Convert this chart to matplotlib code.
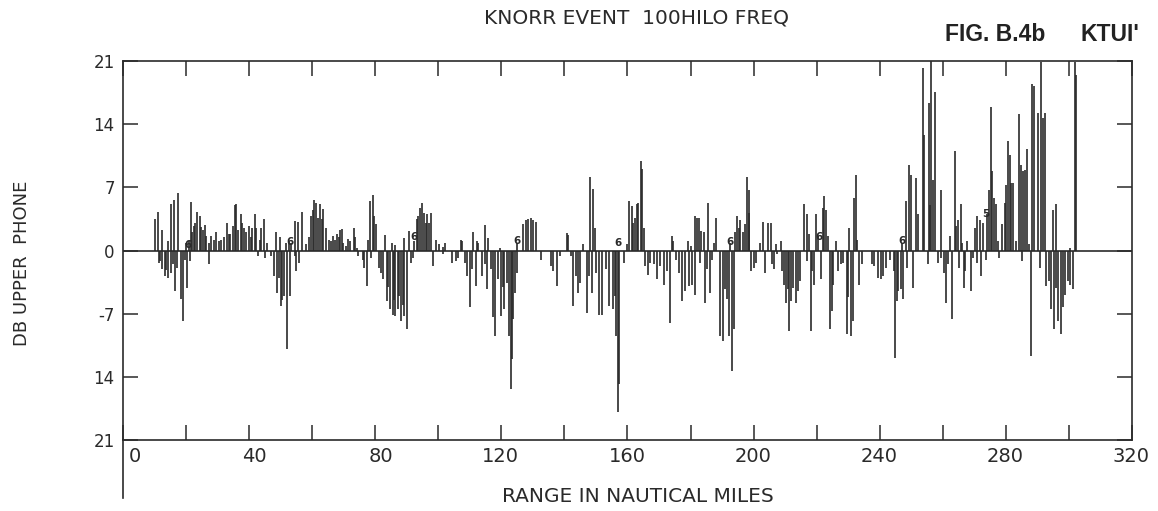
import matplotlib
matplotlib.use('Agg')
import matplotlib.pyplot as plt
import matplotlib.transforms as mtransforms
import numpy as np

plt.rcParams['font.family'] = 'DejaVu Sans'

ink = '#2a2a2a'

# upper (hi) readings: range in nautical miles, level in dB
hi_range = [10.0, 11.1, 12.5, 14.3, 15.1, 16.2, 17.5, 20.1, 20.8, 21.5, 22.0, 22.5, 23.0, 23.6,
            24.3, 24.8, 25.4, 25.9, 26.4, 27.2, 28.0, 28.9, 29.6, 30.3, 31.2, 32.0, 33.0, 33.5,
            34.1, 34.9, 35.4, 35.9, 36.5, 37.3, 37.9, 38.4, 39.1, 39.9, 40.5, 41.0, 41.8, 42.3,
            43.3, 43.9, 44.6, 45.8, 48.6, 49.7, 51.8, 52.5, 53.4, 54.7,
            55.4, 56.8, 58.0, 59.1, 59.6, 60.2, 60.7, 61.2, 61.7, 62.6, 63.1, 63.5, 64.4, 65.2,
            65.9, 66.5, 67.1, 67.8, 68.4, 68.8, 69.4, 69.7, 70.7, 71.5, 72.0, 73.4, 73.7, 74.1,
            77.6, 78.3, 79.2, 79.7, 80.2, 83.2, 85.2, 86.4, 89.2, 90.6, 92.4, 93.1, 93.5, 94.2,
            94.8, 95.6, 96.1, 96.4, 96.9, 97.7, 99.3, 100.3, 101.4, 102.1,
            107.1, 107.6, 111.0, 112.2, 112.7, 114.8, 115.9, 119.5, 125.1, 127.0, 127.7, 128.4,
            129.3, 130.1, 130.9, 140.7, 141.1, 146.0, 148.1, 149.1, 149.6,
            159.8, 160.6, 161.4, 161.9, 162.3, 163.0, 163.5, 164.2, 164.6, 165.1, 174.1, 174.4,
            179.2, 180.0, 181.3, 182.0, 182.8, 183.4, 184.2, 185.7, 187.3, 188.2, 192.6, 194.2,
            194.7, 195.3, 195.8, 196.5, 197.2, 197.9, 198.4, 198.7, 201.9, 202.9, 204.6,
            205.4, 207.1, 208.7, 216.1, 217.0, 217.7, 219.8, 220.5, 221.9, 222.3, 223.0, 223.7,
            226.0, 230.4, 231.8, 232.5, 232.9, 247.0, 248.3, 249.4, 249.8, 251.5, 252.2, 253.6,
            254.0,
            255.6, 256.0, 256.4, 256.9, 257.4, 259.3, 262.4, 263.8, 264.3, 264.8, 265.7, 266.1,
            267.8, 270.1, 270.9, 271.7, 272.7, 274.1, 274.6, 275.2, 275.7, 276.1, 276.8, 277.5,
            278.8, 279.6, 280.1, 280.7, 281.2, 281.7, 282.3, 283.1, 284.1, 284.7, 285.4, 286.0,
            286.8, 287.5, 288.3, 288.9, 290.2, 291.2, 291.8, 292.3, 294.9, 295.8, 300.5, 301.8,
            302.3]
hi_db = [3.5, 4.3, 2.3, 1.1, 5.1, 5.6, 6.4, 0.8, 1.0, 5.4, 2.0, 2.7, 3.0, 4.3,
         3.8, 2.6, 2.3, 2.8, 1.6, 0.8, 1.6, 1.2, 2.0, 1.0, 1.2, 1.5, 3.1, 1.8,
         1.8, 2.7, 5.0, 5.2, 2.3, 4.1, 3.0, 2.5, 2.0, 2.7, 1.5, 2.5, 4.0, 2.5,
         1.2, 2.5, 3.5, 0.8, 2.0, 1.5, 0.8, 0.9, 0.8, 3.3,
         3.2, 4.3, 0.7, 1.5, 3.8, 4.5, 5.6, 5.3, 3.6, 5.1, 3.5, 4.6, 2.5, 1.2,
         1.0, 1.6, 1.2, 1.8, 1.5, 2.3, 2.4, 0.8, 0.5, 1.3, 1.1, 2.5, 1.5, 0.3,
         1.2, 5.5, 6.2, 3.8, 2.9, 1.7, 0.8, 0.6, 1.4, 2.2, 1.0, 3.5, 3.8, 4.7,
         5.3, 4.2, 3.0, 4.0, 3.1, 4.2, 1.2, 0.7, 0.4, 0.8,
         1.2, 1.0, 2.0, 1.1, 0.8, 2.8, 1.4, 0.3, 0.8, 2.9, 3.4, 3.5,
         3.6, 3.4, 3.2, 1.9, 1.7, 0.7, 8.2, 6.8, 2.5,
         0.7, 5.5, 4.9, 3.0, 3.6, 5.1, 5.3, 9.9, 9.0, 2.5, 1.6, 1.0,
         1.0, 0.5, 3.8, 3.6, 3.6, 2.2, 2.1, 5.3, 0.8, 3.6, 0.8, 2.1,
         3.8, 2.5, 3.4, 2.1, 2.9, 8.2, 4.2, 6.7, 0.8, 3.2, 3.1,
         3.1, 0.7, 1.0, 5.1, 4.1, 1.8, 4.0, 1.6, 4.7, 6.0, 4.5, 1.6,
         1.0, 2.5, 5.8, 8.4, 1.2, 0.8, 5.5, 9.5, 8.4, 8.0, 4.0, 20.2,
         12.8,
         16.3, 5.0, 21.0, 7.8, 17.6, 6.7, 1.6, 11.0, 2.7, 3.4, 5.1, 0.8,
         1.0, 2.5, 3.8, 3.4, 3.1, 4.0, 6.7, 15.9, 8.8, 5.8, 5.1, 1.0,
         2.9, 5.3, 7.3, 12.1, 10.6, 7.5, 7.5, 1.0, 15.1, 9.5, 8.8, 8.9,
         11.2, 0.7, 18.4, 18.2, 15.2, 20.9, 14.7, 15.2, 4.5, 5.1, 0.3, 20.9,
         19.4]

# lower (lo) readings
lo_range = [11.3, 11.8, 12.4, 13.2, 13.7, 14.3, 15.3, 15.9, 16.4, 17.2, 18.3, 19.0, 19.8, 20.4,
            21.1, 27.2, 42.8, 44.9, 47.0, 47.9, 49.0, 49.5, 50.0, 50.5, 51.1, 52.0, 53.1, 54.4,
            54.9, 55.9, 74.4, 76.0, 76.5, 77.3, 78.7, 81.1, 81.8, 82.6, 83.6, 84.1, 84.7, 85.5,
            86.0, 86.4, 87.1, 87.6, 88.2, 88.7, 89.2, 90.1, 91.3, 92.1, 98.4, 101.4, 104.3,
            105.5, 106.2, 108.4, 109.2, 110.0, 110.8, 111.9, 114.0, 114.7, 115.3, 116.6, 117.5,
            118.0, 119.0, 120.0, 120.6, 121.0, 121.9, 122.4, 123.0, 123.4, 123.8, 124.3, 125.1,
            132.5, 135.6, 136.5, 137.5, 138.6, 142.0, 142.7, 143.6, 144.4, 145.1, 147.1, 147.8,
            148.6, 149.9, 151.0, 152.0, 153.1, 154.1,
            155.4, 155.9, 156.5, 156.9, 157.4, 158.8, 165.7, 166.5, 167.2, 168.3, 169.4, 170.4,
            171.5, 172.5, 173.6, 175.5, 176.2, 177.3, 178.1, 179.4, 180.5, 181.5, 183.1, 184.5,
            185.2, 186.3, 186.8, 189.4, 190.2, 191.0, 191.6, 192.3, 193.1, 193.7, 199.3, 200.0,
            200.8, 203.7,
            205.7, 206.5, 207.3, 209.1, 209.7, 210.2, 210.8, 211.2, 211.9, 212.6, 213.3, 214.0,
            214.7, 216.8, 218.2, 218.6, 219.2, 221.3, 224.2, 224.8, 225.3, 226.9, 227.6, 228.5,
            229.5, 230.1, 230.8, 231.4, 233.5, 234.3, 237.4, 238.2, 239.6, 240.3, 241.1, 242.0,
            243.3, 244.5, 244.8, 245.4, 245.9, 246.6, 247.5, 248.5, 250.7,
            255.3, 258.5, 259.5, 260.3, 260.9, 261.6, 263.0, 265.0, 266.7, 267.2, 268.8, 269.6,
            270.8, 272.0, 273.8, 277.7, 285.1, 287.9, 290.9, 292.8, 293.6, 294.4, 295.3, 296.0,
            296.7, 297.4, 298.1, 298.8, 299.7, 300.5, 301.3]
lo_db = [-1.4, -1.2, -2.0, -2.8, -2.2, -3.0, -2.5, -1.5, -4.5, -1.9, -5.4, -7.8, -1.0, -4.1,
         -1.2, -1.5, -0.6, -0.8, -0.6, -2.8, -4.7, -3.0, -6.2, -5.5, -5.0, -10.9, -5.0, -0.6,
         -2.3, -1.4, -0.6, -1.0, -1.9, -3.9, -0.8, -1.9, -2.5, -3.2, -5.6, -4.0, -6.5, -7.1,
         -5.5, -7.3, -6.5, -5.0, -7.8, -6.0, -7.3, -8.7, -1.4, -0.8, -1.7, -0.4, -1.4,
         -1.2, -0.8, -1.4, -2.8, -6.3, -2.1, -3.9, -2.8, -1.5, -4.3, -2.1, -7.4,
         -9.5, -3.2, -7.3, -4.0, -6.5, -3.6, -9.5, -15.4, -12.0, -7.6, -4.7, -2.5,
         -1.0, -1.7, -2.3, -3.9, -0.6, -0.6, -6.2, -2.8, -4.7, -3.6, -6.9, -2.8,
         -4.7, -2.5, -7.1, -7.1, -2.1, -6.2,
         -6.5, -5.0, -9.5, -17.9, -14.8, -1.4, -1.7, -2.7, -1.4, -1.5, -3.2, -1.7,
         -3.8, -2.3, -8.0, -1.0, -2.5, -5.6, -4.5, -3.9, -3.8, -4.9, -1.4, -5.8,
         -2.1, -4.7, -1.0, -9.5, -10.0, -4.3, -5.4, -9.5, -13.3, -8.7, -2.3, -1.9,
         -1.4, -2.5,
         -1.5, -2.1, -0.4, -2.3, -3.8, -5.8, -4.3, -8.9, -5.6, -4.1, -5.8, -4.5,
         -3.4, -1.2, -8.9, -2.3, -3.8, -3.2, -8.7, -6.7, -3.8, -2.3, -1.5, -1.4,
         -9.3, -5.2, -9.5, -7.8, -3.8, -1.5, -1.5, -1.7, -3.0, -3.2, -2.8, -1.9,
         -1.0, -2.3, -11.9, -5.6, -4.5, -4.3, -5.4, -1.9, -4.1,
         -1.5, -1.4, -0.8, -2.5, -5.8, -1.5, -7.6, -1.9, -4.1, -2.3, -4.5, -0.8,
         -1.4, -2.8, -1.0, -0.8, -1.2, -11.7, -1.9, -3.9, -3.4, -6.5, -8.7, -4.1,
         -7.8, -9.3, -6.3, -4.9, -3.4, -3.8, -4.3]

# small event marks plotted along the zero line
mark_range = [20.6, 53.0, 92.3, 125.0, 157.0, 192.5, 220.7, 247.1, 273.7]
mark_db = [0.6, 0.9, 1.5, 1.0, 0.8, 0.9, 1.5, 1.1, 4.0]
mark_text = ['6', '6', '6', '6', '6', '6', '6', '6', '5']

x_ticks = list(range(0, 321, 20))
x_labels = [str(v) if v % 40 == 0 else '' for v in x_ticks]
y_ticks = [21, 14, 7, 0, -7, -14, -21]
y_labels = ['21', '14', '7', '0', '-7', '14', '21']

fig = plt.figure(figsize=(11.58, 5.11), dpi=100)
ax = fig.add_axes([0.1062, 0.1389, 0.8713, 0.7417])

ax.vlines(hi_range, 0, hi_db, color=ink, linewidth=1.2)
ax.vlines(lo_range, 0, lo_db, color=ink, linewidth=1.2)
ax.axhline(0, color=ink, linewidth=1.2)
for r, d, t in zip(mark_range, mark_db, mark_text):
    ax.text(r, d, t, fontsize=7.5, fontweight='bold', color=ink,
            ha='center', va='center')

ax.set_xlim(0, 320)
ax.set_ylim(-21, 21)
ax.set_xticks(x_ticks)
ax.set_xticklabels(x_labels, fontsize=14, color=ink)
ax.set_yticks(y_ticks)
ax.set_yticklabels(y_labels, fontsize=12, color=ink)
ax.tick_params(axis='both', direction='in', length=11, width=1.1, color=ink,
               top=True, right=True)
ax.tick_params(axis='x', pad=5)
ax.tick_params(axis='y', pad=6)

# range labels sit just right of their tick
shift = mtransforms.ScaledTranslation(0.18, 0, fig.dpi_scale_trans)
for lab in ax.get_xticklabels():
    lab.set_horizontalalignment('right')
    lab.set_transform(lab.get_transform() + shift)

for s in ax.spines.values():
    s.set_color(ink)
    s.set_linewidth(1.2)
# left axis runs on below the frame
ax.plot([0, 0], [0, -0.153], transform=ax.transAxes, color=ink,
        linewidth=1.2, clip_on=False)

fig.text(0.550, 0.965, 'KNORR EVENT  100HILO FREQ', fontsize=14.5, color=ink,
         ha='center', va='center')
fig.text(0.551, 0.029, 'RANGE IN NAUTICAL MILES', fontsize=14.5, color=ink,
         ha='center', va='center')
fig.text(0.019, 0.485, 'DB UPPER  PHONE', fontsize=13, color=ink,
         rotation=90, ha='center', va='center')
fig.text(0.816, 0.932, 'FIG. B.4b', fontsize=16.5, fontweight='bold',
         family='Liberation Sans', color='#222222', ha='left', va='center')
fig.text(0.933, 0.932, "KTUI'", fontsize=16.5, fontweight='bold',
         family='Liberation Sans', color='#222222', ha='left', va='center')

fig.savefig('out.png', dpi=100, facecolor='white')
